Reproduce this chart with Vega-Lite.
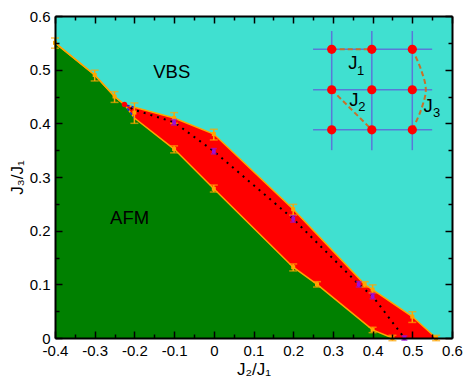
{
"$schema":"https://vega.github.io/schema/vega-lite/v6.json",
"width":397,"height":322,
"autosize":"none",
"padding":{"left":55,"top":16,"right":19,"bottom":46},
"background":"white",
"view":{"fill":"#40E0D0","stroke":null},
"config":{"axis":{"labelFont":"Liberation Sans","titleFont":"Liberation Sans","labelFontSize":15,"titleFontSize":17,"titleFontWeight":"normal","labelColor":"black","titleColor":"black"}},
"datasets":{
"upper":[{"x":-0.4,"y":0.55},{"x":-0.3,"y":0.49},{"x":-0.25,"y":0.45},{"x":-0.225,"y":0.435},{"x":-0.2,"y":0.43},{"x":-0.1,"y":0.41},{"x":0,"y":0.38},{"x":0.2,"y":0.24},{"x":0.38,"y":0.1},{"x":0.4,"y":0.09},{"x":0.5,"y":0.04},{"x":0.56,"y":0}],
"lower":[{"x":-0.4,"y":0.55},{"x":-0.3,"y":0.49},{"x":-0.25,"y":0.45},{"x":-0.225,"y":0.435},{"x":-0.2,"y":0.41},{"x":-0.1,"y":0.352},{"x":0,"y":0.278},{"x":0.2,"y":0.132},{"x":0.26,"y":0.1},{"x":0.4,"y":0.015},{"x":0.45,"y":0}],
"mid":[{"x":-0.225,"y":0.435},{"x":-0.2,"y":0.425},{"x":-0.1,"y":0.402},{"x":0,"y":0.348},{"x":0.2,"y":0.222},{"x":0.365,"y":0.1},{"x":0.4,"y":0.078},{"x":0.48,"y":0}],
"orange":[{"x":-0.4,"y":0.55,"lo":0.54,"hi":0.559},{"x":-0.3,"y":0.49,"lo":0.479,"hi":0.499},{"x":-0.25,"y":0.45,"lo":0.439,"hi":0.459},{"x":-0.2,"y":0.42,"lo":0.4,"hi":0.438},{"x":-0.1,"y":0.41,"lo":0.4,"hi":0.42},{"x":-0.1,"y":0.352,"lo":0.345,"hi":0.358},{"x":0,"y":0.38,"lo":0.369,"hi":0.389},{"x":0,"y":0.278,"lo":0.272,"hi":0.285},{"x":0.2,"y":0.24,"lo":0.229,"hi":0.249},{"x":0.2,"y":0.132,"lo":0.125,"hi":0.138},{"x":0.26,"y":0.1,"lo":0.095,"hi":0.105},{"x":0.38,"y":0.1,"lo":0.095,"hi":0.105},{"x":0.4,"y":0.09,"lo":0.084,"hi":0.099},{"x":0.5,"y":0.04,"lo":0.029,"hi":0.049},{"x":0.4,"y":0.015,"lo":0.01,"hi":0.02},{"x":0.45,"y":0,"lo":-0.005,"hi":0.005},{"x":0.56,"y":0,"lo":-0.005,"hi":0.005}],
"purple":[{"x":-0.1,"y":0.402,"lo":0.397,"hi":0.407},{"x":0,"y":0.348,"lo":0.343,"hi":0.353},{"x":0.2,"y":0.222,"lo":0.216,"hi":0.228},{"x":0.365,"y":0.1,"lo":0.095,"hi":0.105},{"x":0.4,"y":0.078,"lo":0.073,"hi":0.083},{"x":0.48,"y":0,"lo":-0.004,"hi":0.004}],
"blue":[{"x":-0.2,"y":0.43,"o":1},{"x":-0.225,"y":0.435,"o":2},{"x":-0.2,"y":0.41,"o":3}],
"grid":[{"x":0.297,"x2":0.297,"y":0.35,"y2":0.572},{"x":0.398,"x2":0.398,"y":0.35,"y2":0.572},{"x":0.5,"x2":0.5,"y":0.35,"y2":0.572},{"x":0.25,"x2":0.55,"y":0.538,"y2":0.538},{"x":0.25,"x2":0.55,"y":0.4626,"y2":0.4626},{"x":0.25,"x2":0.55,"y":0.388,"y2":0.388}],
"sites":[{"x":0.297,"y":0.538},{"x":0.398,"y":0.538},{"x":0.5,"y":0.538},{"x":0.297,"y":0.4626},{"x":0.398,"y":0.4626},{"x":0.5,"y":0.4626},{"x":0.297,"y":0.388},{"x":0.398,"y":0.388},{"x":0.5,"y":0.388}],
"bonds":[{"x":0.297,"y":0.538,"b":"J1","o":1},{"x":0.398,"y":0.538,"b":"J1","o":2},{"x":0.297,"y":0.4626,"b":"J2","o":1},{"x":0.398,"y":0.388,"b":"J2","o":2}],
"curve":[{"x":0.5,"y":0.538,"o":1},{"x":0.522,"y":0.5,"o":2},{"x":0.534,"y":0.463,"o":3},{"x":0.522,"y":0.425,"o":4},{"x":0.5,"y":0.388,"o":5}],
"big":[{"x":-0.106,"y":0.495,"t":"VBS"},{"x":-0.212,"y":0.2235,"t":"AFM"},{"x":0.35,"y":0.513,"t":"J"},{"x":0.353,"y":0.444,"t":"J"},{"x":0.54,"y":0.433,"t":"J"}],
"sub":[{"x":0.37,"y":0.497,"t":"1"},{"x":0.373,"y":0.43,"t":"2"},{"x":0.561,"y":0.419,"t":"3"}],
"triple":[{"x":-0.225,"y":0.435}]
},
"layer":[
{"data":{"name":"upper"},"mark":{"type":"area","color":"#FF0000","clip":true},
 "encoding":{
  "x":{"field":"x","type":"quantitative","scale":{"domain":[-0.4,0.6],"nice":false},"title":"J₂/J₁","axis":{"orient":"bottom","grid":false,"ticks":false,"domainColor":"black","domainWidth":2,"values":[-0.4,-0.3,-0.2,-0.1,0,0.1,0.2,0.3,0.4,0.5,0.6],"labelExpr":"toString(round(datum.value*10)/10)","labelPadding":5,"titlePadding":3,"labelOverlap":false,"labelFlush":false,"zindex":1}},
  "y":{"field":"y","type":"quantitative","scale":{"domain":[0,0.6],"nice":false},"title":"J₃/J₁","axis":{"orient":"left","grid":false,"ticks":false,"domainColor":"black","domainWidth":2,"values":[0,0.1,0.2,0.3,0.4,0.5,0.6],"labelExpr":"toString(round(datum.value*10)/10)","labelPadding":5,"titlePadding":3,"labelOverlap":false,"labelFlush":false,"zindex":1}}
 }},
{"data":{"name":"lower"},"mark":{"type":"area","color":"#008000","clip":true},"encoding":{"x":{"field":"x","type":"quantitative","axis":null},"y":{"field":"y","type":"quantitative","axis":null}}},
{"data":{"name":"upper"},"mark":{"type":"line","color":"#FFA500","strokeWidth":1.5},"encoding":{"x":{"field":"x","type":"quantitative","axis":null},"y":{"field":"y","type":"quantitative","axis":null}}},
{"data":{"name":"lower"},"mark":{"type":"line","color":"#FFA500","strokeWidth":1.5},"encoding":{"x":{"field":"x","type":"quantitative","axis":null},"y":{"field":"y","type":"quantitative","axis":null}}},
{"data":{"name":"mid"},"mark":{"type":"line","color":"black","strokeWidth":2,"strokeDash":[2,5]},"encoding":{"x":{"field":"x","type":"quantitative","axis":null},"y":{"field":"y","type":"quantitative","axis":null}}},
{"data":{"name":"blue"},"mark":{"type":"line","color":"#1020E0","strokeWidth":1.5,"strokeDash":[3,2]},"encoding":{"x":{"field":"x","type":"quantitative","axis":null},"y":{"field":"y","type":"quantitative","axis":null},"order":{"field":"o"}}},
{"data":{"name":"orange"},"mark":{"type":"rule","color":"#FFA500","strokeWidth":1.5},"encoding":{"x":{"field":"x","type":"quantitative","axis":null},"y":{"field":"lo","type":"quantitative","axis":null},"y2":{"field":"hi"}}},
{"data":{"name":"orange"},"mark":{"type":"tick","color":"#FFA500","size":8,"thickness":1.5,"orient":"horizontal"},"encoding":{"x":{"field":"x","type":"quantitative","axis":null},"y":{"field":"lo","type":"quantitative","axis":null}}},
{"data":{"name":"orange"},"mark":{"type":"tick","color":"#FFA500","size":8,"thickness":1.5,"orient":"horizontal"},"encoding":{"x":{"field":"x","type":"quantitative","axis":null},"y":{"field":"hi","type":"quantitative","axis":null}}},
{"data":{"name":"orange"},"mark":{"type":"point","shape":"square","filled":true,"color":"#FFA500","size":16,"opacity":1},"encoding":{"x":{"field":"x","type":"quantitative","axis":null},"y":{"field":"y","type":"quantitative","axis":null}}},
{"data":{"name":"purple"},"mark":{"type":"rule","color":"#9A10D8","strokeWidth":1.5},"encoding":{"x":{"field":"x","type":"quantitative","axis":null},"y":{"field":"lo","type":"quantitative","axis":null},"y2":{"field":"hi"}}},
{"data":{"name":"purple"},"mark":{"type":"tick","color":"#9A10D8","size":6,"thickness":1.5,"orient":"horizontal"},"encoding":{"x":{"field":"x","type":"quantitative","axis":null},"y":{"field":"lo","type":"quantitative","axis":null}}},
{"data":{"name":"purple"},"mark":{"type":"tick","color":"#9A10D8","size":6,"thickness":1.5,"orient":"horizontal"},"encoding":{"x":{"field":"x","type":"quantitative","axis":null},"y":{"field":"hi","type":"quantitative","axis":null}}},
{"data":{"name":"purple"},"mark":{"type":"point","shape":"square","filled":true,"color":"#9A10D8","size":14,"opacity":1},"encoding":{"x":{"field":"x","type":"quantitative","axis":null},"y":{"field":"y","type":"quantitative","axis":null}}},
{"data":{"name":"triple"},"mark":{"type":"point","filled":true,"color":"#FF0000","size":30,"opacity":1},"encoding":{"x":{"field":"x","type":"quantitative","axis":null},"y":{"field":"y","type":"quantitative","axis":null}}},
{"data":{"name":"grid"},"mark":{"type":"rule","color":"#5A78D8","strokeWidth":1.5},"encoding":{"x":{"field":"x","type":"quantitative","axis":null},"y":{"field":"y","type":"quantitative","axis":null},"x2":{"field":"x2"},"y2":{"field":"y2"}}},
{"data":{"name":"bonds"},"mark":{"type":"line","color":"#C8702A","strokeWidth":2,"strokeDash":[5,3]},"encoding":{"x":{"field":"x","type":"quantitative","axis":null},"y":{"field":"y","type":"quantitative","axis":null},"detail":{"field":"b"},"order":{"field":"o"}}},
{"data":{"name":"curve"},"mark":{"type":"line","color":"#C8702A","strokeWidth":2,"strokeDash":[5,3],"interpolate":"cardinal"},"encoding":{"x":{"field":"x","type":"quantitative","axis":null},"y":{"field":"y","type":"quantitative","axis":null},"order":{"field":"o"}}},
{"data":{"name":"sites"},"mark":{"type":"point","filled":true,"color":"#FF0000","size":85,"opacity":1},"encoding":{"x":{"field":"x","type":"quantitative","axis":null},"y":{"field":"y","type":"quantitative","axis":null}}},
{"data":{"name":"big"},"mark":{"type":"text","font":"Liberation Sans","fontSize":18.5,"color":"black"},"encoding":{"x":{"field":"x","type":"quantitative","axis":null},"y":{"field":"y","type":"quantitative","axis":null},"text":{"field":"t"}}},
{"data":{"name":"sub"},"mark":{"type":"text","font":"Liberation Sans","fontSize":13,"color":"black"},"encoding":{"x":{"field":"x","type":"quantitative","axis":null},"y":{"field":"y","type":"quantitative","axis":null},"text":{"field":"t"}}},
{"data":{"name":"upper"},"mark":{"type":"line","opacity":0},
 "encoding":{
  "x":{"field":"x","type":"quantitative","axis":{"orient":"top","grid":false,"zindex":1,"tickColor":"black","tickWidth":1.5,"domainColor":"black","domainWidth":2,"title":null,"labels":false,"values":[-0.4,-0.3,-0.2,-0.1,0,0.1,0.2,0.3,0.4,0.5,0.6],"tickSize":-7}},
  "y":{"field":"y","type":"quantitative","axis":{"orient":"right","grid":false,"zindex":1,"tickColor":"black","tickWidth":1.5,"domainColor":"black","domainWidth":2,"title":null,"labels":false,"values":[0,0.1,0.2,0.3,0.4,0.5,0.6],"tickSize":-7}}
 }},
{"data":{"name":"upper"},"mark":{"type":"line","opacity":0},
 "encoding":{
  "x":{"field":"x","type":"quantitative","axis":{"orient":"top","grid":false,"zindex":1,"tickColor":"black","tickWidth":1.5,"title":null,"labels":false,"domain":false,"values":[-0.35,-0.25,-0.15,-0.05,0.05,0.15,0.25,0.35,0.45,0.55],"tickSize":-4}},
  "y":{"field":"y","type":"quantitative","axis":{"orient":"right","grid":false,"zindex":1,"tickColor":"black","tickWidth":1.5,"title":null,"labels":false,"domain":false,"values":[0.05,0.15,0.25,0.35,0.45,0.55],"tickSize":-4}}
 }},
{"data":{"name":"upper"},"mark":{"type":"line","opacity":0},
 "encoding":{
  "x":{"field":"x","type":"quantitative","axis":{"orient":"bottom","grid":false,"zindex":1,"tickColor":"black","tickWidth":1.5,"title":null,"labels":false,"domain":false,"values":[-0.4,-0.3,-0.2,-0.1,0,0.1,0.2,0.3,0.4,0.5,0.6],"tickSize":-7}},
  "y":{"field":"y","type":"quantitative","axis":{"orient":"left","grid":false,"zindex":1,"tickColor":"black","tickWidth":1.5,"title":null,"labels":false,"domain":false,"values":[0,0.1,0.2,0.3,0.4,0.5,0.6],"tickSize":-7}}
 }},
{"data":{"name":"upper"},"mark":{"type":"line","opacity":0},
 "encoding":{
  "x":{"field":"x","type":"quantitative","axis":{"orient":"bottom","grid":false,"zindex":1,"tickColor":"black","tickWidth":1.5,"title":null,"labels":false,"domain":false,"values":[-0.35,-0.25,-0.15,-0.05,0.05,0.15,0.25,0.35,0.45,0.55],"tickSize":-4}},
  "y":{"field":"y","type":"quantitative","axis":{"orient":"left","grid":false,"zindex":1,"tickColor":"black","tickWidth":1.5,"title":null,"labels":false,"domain":false,"values":[0.05,0.15,0.25,0.35,0.45,0.55],"tickSize":-4}}
 }}
],
"resolve":{"axis":{"x":"independent","y":"independent"}}
}
